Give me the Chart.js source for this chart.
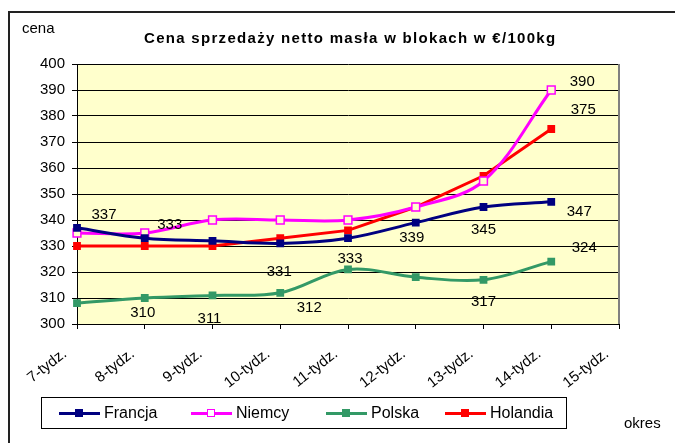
<!DOCTYPE html>
<html lang="pl">
<head>
<meta charset="UTF-8">
<title>Cena sprzedaży netto masła</title>
<script src="https://cdn.jsdelivr.net/npm/chart.js"></script>
<style>
    body { margin: 0; background: #fff; font-family: "Liberation Sans", Arial, sans-serif; }
    #wrap { position: relative; width: 675px; height: 443px; overflow: hidden; }
    #frame { position: absolute; left: 8px; top: 11px; right: -5px; bottom: -5px;
             border-left: 2px solid #222; border-top: 2px solid #222; }
    #myChart { position: absolute; left: 0; top: 0; }
    .txt { position: absolute; white-space: nowrap; color: #000; line-height: 1; }
    #title { left: 144px; top: 30px; font-weight: bold; font-size: 15px; letter-spacing: 1.3px; }
    #cena { left: 22px; top: 20px; font-size: 15px; }
    #okres { left: 624px; top: 415px; font-size: 15px; }
    #legend { position: absolute; left: 41px; top: 397px; width: 524px; height: 30px;
              border: 1px solid #000; background: #fff; }
    .lg-line { position: absolute; top: 14px; height: 3px; }
    .lg-mark { position: absolute; top: 11px; width: 8px; height: 8px; box-sizing: border-box; }
    .lg-text { position: absolute; top: 7px; font-size: 16px; line-height: 1; }
</style>
</head>
<body>
<div id="wrap">
    <div id="frame"></div>
    <canvas id="myChart" width="675" height="443"></canvas>
    <div class="txt" id="title">Cena sprzedaży netto masła w blokach w €/100kg</div>
    <div class="txt" id="cena">cena</div>
    <div class="txt" id="okres">okres</div>
    <div id="legend"></div>
</div>

<script>
// dane
const tygodnie = ['7-tydz.', '8-tydz.', '9-tydz.', '10-tydz.', '11-tydz.', '12-tydz.', '13-tydz.', '14-tydz.', '15-tydz.'];
const francja  = [337, 333, 332, 331, 333, 339, 345, 347, null];
const niemcy   = [335, 335, 340, 340, 340, 345, 355, 390, null];
const polska   = [308, 310, 311, 312, 321, 318, 317, 324, null];
const holandia = [330, 330, 330, 333, 336, 345, 357, 375, null];
const yTicks   = [300, 310, 320, 330, 340, 350, 360, 370, 380, 390, 400];

// przesunięcia etykiet wartości względem punktów (null = brak etykiety)
const francjaLbl  = [[27, -13], [25, -13], null, [-1, 28], [2, 21], [-4, 15], [0, 23], [28, 10], null];
const niemcyLbl   = [null, null, null, null, null, null, null, [31, -8], null];
const polskaLbl   = [null, [-2, 15], [-3, 23], [29, 15], null, null, [0, 22], [33, -14], null];
const holandiaLbl = [null, null, null, null, null, null, null, [32, -19], null];

const series = [
    { label: 'Francja',  data: francja,  color: '#000080', fill: '#000080', lbl: francjaLbl,  tension: 0.35 },
    { label: 'Niemcy',   data: niemcy,   color: '#FF00FF', fill: '#FFFFCC', lbl: niemcyLbl,   tension: 0.35 },
    { label: 'Polska',   data: polska,   color: '#339966', fill: '#339966', lbl: polskaLbl,   tension: 0.35 },
    { label: 'Holandia', data: holandia, color: '#FF0000', fill: '#FF0000', lbl: holandiaLbl, tension: 0 }
];

const FONT = '"Liberation Sans", Arial, sans-serif';

// legenda w ramce
const legendPos = [17, 149, 284, 403];
const legend = document.getElementById('legend');
series.forEach((s, i) => {
    const x = legendPos[i];
    const fillCss = s.label === 'Niemcy' ? '#fff' : s.fill;
    legend.innerHTML +=
        `<div class="lg-line" style="left:${x}px;width:41px;background:${s.color}"></div>` +
        `<div class="lg-mark" style="left:${x + 16}px;background:${fillCss};border:${s.label === 'Niemcy' ? '1.5px solid ' + s.color : 'none'}"></div>` +
        `<div class="lg-text" style="left:${x + 45}px">${s.label}</div>`;
});

// tło obszaru wykresu, prawa krawędź i etykiety wartości
const plotArea = {
    id: 'plotArea',
    beforeDraw(chart) {
        const { ctx, chartArea: a } = chart;
        ctx.save();
        ctx.fillStyle = '#FFFFCC';
        ctx.fillRect(a.left, a.top, a.right - a.left, a.bottom - a.top);
        ctx.restore();
    },
    beforeDatasetsDraw(chart) {
        const { ctx, chartArea: a } = chart;
        ctx.save();
        ctx.strokeStyle = '#808080';
        ctx.lineWidth = 2;
        ctx.beginPath();
        ctx.moveTo(a.right, a.top);
        ctx.lineTo(a.right, a.bottom);
        ctx.stroke();
        ctx.restore();
    },
    afterDatasetsDraw(chart) {
        const ctx = chart.ctx;
        ctx.save();
        ctx.font = '15px ' + FONT;
        ctx.fillStyle = '#000';
        ctx.textAlign = 'center';
        ctx.textBaseline = 'middle';
        series.forEach((s, di) => {
            const meta = chart.getDatasetMeta(di);
            s.lbl.forEach((off, i) => {
                if (!off || s.data[i] == null) return;
                const p = meta.data[i];
                ctx.fillText(String(s.data[i]), p.x + off[0], p.y + off[1]);
            });
        });
        ctx.restore();
    }
};

const ctx = document.getElementById('myChart').getContext('2d');
new Chart(ctx, {
    type: 'line',
    data: {
        labels: tygodnie,
        datasets: series.map(s => ({
            label: s.label,
            data: s.data,
            borderColor: s.color,
            backgroundColor: s.fill,
            borderWidth: 3,
            tension: s.tension,
            pointStyle: 'rect',
            pointRadius: 5.5,
            pointBorderWidth: s.label === 'Niemcy' ? 1.5 : 0,
            pointBorderColor: s.color,
            pointBackgroundColor: s.fill,
            spanGaps: false
        }))
    },
    options: {
        responsive: false,
        devicePixelRatio: 1,
        animation: false,
        events: [],
        layout: { padding: { left: 0, top: 64, right: 56, bottom: 44 } },
        plugins: {
            legend: { display: false },
            title: { display: false },
            tooltip: { enabled: false }
        },
        scales: {
            x: {
                offset: false,
                afterFit: scale => { scale.height = 75; },
                grid: { drawOnChartArea: false, drawTicks: true, tickLength: 5, color: '#000' },
                border: { color: '#000', width: 1 },
                ticks: {
                    color: '#000',
                    font: { family: FONT, size: 15 },
                    minRotation: 38,
                    maxRotation: 38,
                    padding: 16,
                    labelOffset: -12,
                    autoSkip: false
                }
            },
            y: {
                min: 300,
                max: 400,
                afterFit: scale => { scale.width = 77; },
                afterBuildTicks: scale => { scale.ticks = yTicks.map(v => ({ value: v })); },
                grid: { color: '#000', tickLength: 5, lineWidth: 1 },
                border: { color: '#000', width: 1 },
                ticks: {
                    color: '#000',
                    font: { family: FONT, size: 15 },
                    padding: 7
                }
            }
        }
    },
    plugins: [plotArea]
});
</script>
</body>
</html>
